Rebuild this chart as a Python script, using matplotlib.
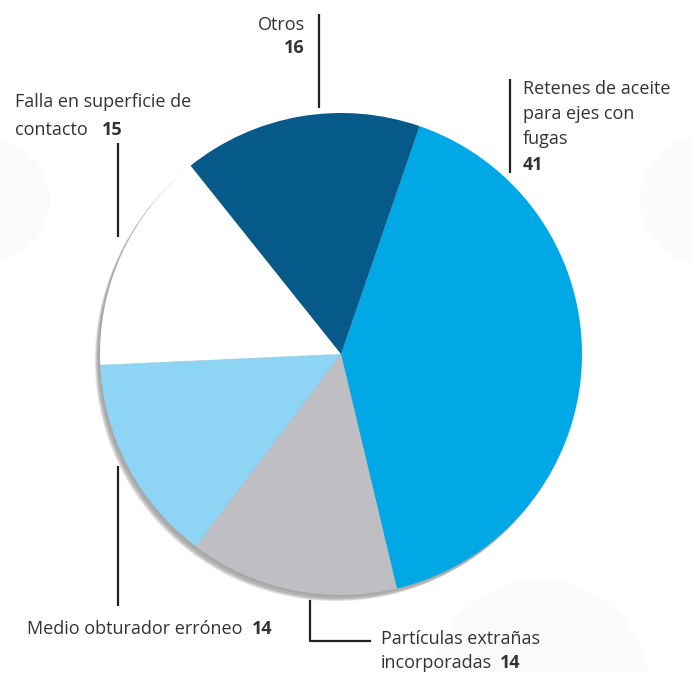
import matplotlib
matplotlib.use("Agg")
import matplotlib.pyplot as plt
from matplotlib.patches import Circle

categories = ["Retenes de aceite\npara ejes con\nfugas", "Partículas extrañas\nincorporadas",
              "Medio obturador erróneo", "Falla en superficie de\ncontacto", "Otros"]
values = [41, 14, 14, 15, 16]
colors = ["#00A8E6", "#BEBEC3", "#8DD4F5", "#FFFFFF", "#055A8A"]

W, H = 693, 673
fig = plt.figure(figsize=(W / 100, H / 100), dpi=100)
ax = fig.add_axes([0, 0, 1, 1])

def Y(py):
    return H - py

# faint background blobs
for (bx, by, r) in [(-10, 200, 60), (705, 200, 65), (540, 690, 110)]:
    ax.add_patch(Circle((bx, Y(by)), r, color="#fbfbfb", zorder=0, lw=0))

cx, cy, R = 341, 354, 241
# shadow
for (dx, dy, c) in [(-5, 6, "#e0e0e0"), (-4, 5, "#c8c8c8"), (-3, 4, "#b4b4b4"), (-2, 2, "#a8a8a8")]:
    ax.add_patch(Circle((cx + dx, Y(cy + dy)), R, color=c, zorder=1, lw=0))

ax.pie(values, colors=colors, startangle=71, counterclock=False,
       center=(cx, Y(cy)), radius=R, frame=True,
       wedgeprops=dict(linewidth=0, zorder=2))
ax.set_xlim(0, W)
ax.set_ylim(0, H)
ax.set_aspect("equal")
ax.axis("off")

fam = ["Open Sans", "DejaVu Sans"]
tc = "#333333"
fs = 13

def txt(x, y, s, ha="left", bold=False):
    ax.text(x, Y(y), s, ha=ha, va="center", fontsize=fs, color=tc, family=fam,
            fontweight="bold" if bold else "normal", zorder=5)

def vline(x, y0, y1):
    ax.plot([x, x], [Y(y0), Y(y1)], color="#222222", lw=1.6, zorder=5, solid_capstyle="butt")

# Otros
txt(305, 25, "Otros", ha="right")
txt(305, 48, str(values[4]), ha="right", bold=True)
vline(319, 14, 108)

# Falla
txt(15, 102, "Falla en superficie de")
txt(15, 130, "contacto")
txt(102, 130, str(values[3]), bold=True)
vline(118, 143, 237)

# Retenes
for i, line in enumerate(categories[0].split("\n")):
    txt(523, 89 + 25 * i, line)
txt(523, 165, str(values[0]), bold=True)
vline(510, 79, 173)

# Medio
txt(27, 629, categories[2])
txt(252, 629, str(values[2]), bold=True)
vline(118, 466, 606)

# Particulas
txt(381, 639, "Partículas extrañas")
txt(381, 663, "incorporadas")
txt(500, 663, str(values[1]), bold=True)
ax.plot([310, 310, 370], [Y(601), Y(641), Y(641)], color="#222222", lw=1.6, zorder=5)

fig.savefig("out.png", dpi=100, facecolor="white")
